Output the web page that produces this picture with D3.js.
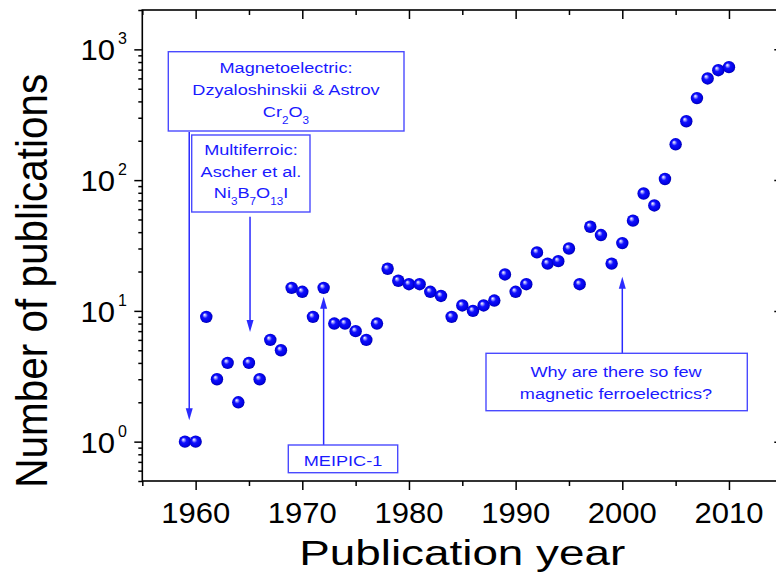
<!DOCTYPE html>
<html><head><meta charset="utf-8">
<script src="https://cdn.jsdelivr.net/npm/d3@7"></script>
<style>html,body{margin:0;padding:0;background:#fff;}svg{display:block;}</style>
</head><body>
<svg id="chart" width="776" height="577"></svg>
<script>
// ---- data ----
const years = [1959,1960,1961,1962,1963,1964,1965,1966,1967,1968,1969,1970,1971,1972,1973,1974,1975,1976,1977,1978,1979,1980,1981,1982,1983,1984,1985,1986,1987,1988,1989,1990,1991,1992,1993,1994,1995,1996,1997,1998,1999,2000,2001,2002,2003,2004,2005,2006,2007,2008,2009,2010];
const publications = [1,1,9,3,4,2,4,3,6,5,15,14,9,15,8,8,7,6,8,21,17,16,16,14,13,9,11,10,11,12,19,14,16,28,23,24,30,16,44,38,23,33,49,79,64,102,188,282,424,599,693,731];
const xMajorTicks = [1960,1970,1980,1990,2000,2010];
const xMinorTicks = [1955,1965,1975,1985,1995,2005,2015];
const yMajorTicks = [1,10,100,1000];
const yTickExponents = ["0","1","2","3"];
const xTitle = "Publication year";
const yTitle = "Number of publications";
// annotations: arrow x (year), arrow tip value
const annYears = [1959.4, 1965.1, 1972, 2000];
const annTipValues = [1.46, 6.9, 12.8, 18.2];

// ---- layout ----
const svg = d3.select("#chart");
const L = 142.3, R = 782.3, T = 10, B = 481;
const x = d3.scaleLinear().domain([1955, 2015]).range([L, R]);
const y = d3.scaleLog().domain([0.5, 2000]).range([B, T]);

const yMinor = [];
[0.1,1,10,100].forEach(d => { for (let k=2;k<=9;k++){ const v=d*k; if (v>=0.5 && v<=2000 && !yMajorTicks.includes(v)) yMinor.push(v);} });
yMinor.push(2000);

const axisCol = "#000";
function styleAxis(g){ g.select(".domain").remove(); g.selectAll("line").attr("stroke", axisCol).attr("stroke-width",1.5); g.selectAll("text").remove(); }

// bottom
svg.append("g").attr("transform",`translate(0,${B})`).call(d3.axisBottom(x).tickValues(xMajorTicks).tickSize(9)).call(styleAxis);
svg.append("g").attr("transform",`translate(0,${B})`).call(d3.axisBottom(x).tickValues(xMinorTicks).tickSize(5)).call(styleAxis);
// top (inward)
svg.append("g").attr("transform",`translate(0,${T})`).call(d3.axisBottom(x).tickValues(xMajorTicks).tickSize(9)).call(styleAxis);
svg.append("g").attr("transform",`translate(0,${T})`).call(d3.axisBottom(x).tickValues(xMinorTicks).tickSize(5)).call(styleAxis);
// left (outward)
svg.append("g").attr("transform",`translate(${L},0)`).call(d3.axisLeft(y).tickValues(yMajorTicks).tickSize(8)).call(styleAxis);
svg.append("g").attr("transform",`translate(${L},0)`).call(d3.axisLeft(y).tickValues(yMinor).tickSize(4)).call(styleAxis);
// right (inward)
svg.append("g").attr("transform",`translate(${R},0)`).call(d3.axisLeft(y).tickValues(yMajorTicks).tickSize(8)).call(styleAxis);
svg.append("g").attr("transform",`translate(${R},0)`).call(d3.axisLeft(y).tickValues(yMinor).tickSize(4)).call(styleAxis);

// frame
svg.append("rect").attr("x",L).attr("y",T).attr("width",R-L).attr("height",B-T)
  .attr("fill","none").attr("stroke",axisCol).attr("stroke-width",1.6);

const FONT = "Arial, 'Liberation Sans', Helvetica, sans-serif";
function stext(parent, px, py, sx, anchor){
  return parent.append("text").attr("transform",`translate(${px},${py}) scale(${sx},1)`)
    .attr("text-anchor",anchor).attr("font-family",FONT);
}

// x tick labels
xMajorTicks.forEach(t => {
  stext(svg, x(t), 522.7, 1.07, "middle").attr("font-size",29).attr("fill","#000").text(t);
});
// y tick labels
yMajorTicks.forEach((t,i) => {
  stext(svg, 115, y(t)+11, 1.07, "end").attr("font-size",29).attr("fill","#000").text("10");
  stext(svg, 118, y(t)-5, 1.0, "start").attr("font-size",16).attr("fill","#000").text(yTickExponents[i]);
});
// axis titles
svg.append("text").attr("transform",`translate(${(296.7+627.7)/2},565) scale(1.31,1)`)
  .attr("text-anchor","middle").attr("font-family",FONT).attr("font-size",35).attr("fill","#000").text(xTitle);
svg.append("text").attr("transform",`translate(46.7,280.7) scale(1.27,1) rotate(-90)`)
  .attr("text-anchor","middle").attr("font-family",FONT).attr("font-size",35).attr("fill","#000")
  .attr("textLength",414).attr("lengthAdjust","spacingAndGlyphs").text(yTitle);

// sphere gradient
const defs = svg.append("defs");
const grad = defs.append("radialGradient").attr("id","sphere").attr("cx","50%").attr("cy","50%").attr("r","55%").attr("fx","35%").attr("fy","32%");
grad.append("stop").attr("offset","0%").attr("stop-color","#ffffff");
grad.append("stop").attr("offset","18%").attr("stop-color","#9a9aff");
grad.append("stop").attr("offset","40%").attr("stop-color","#1010ff");
grad.append("stop").attr("offset","80%").attr("stop-color","#0000e0");
grad.append("stop").attr("offset","100%").attr("stop-color","#00008a");

svg.append("g").selectAll("circle").data(years.map((yr,i)=>({yr, v:publications[i]})))
  .join("circle").attr("cx",d=>x(d.yr)).attr("cy",d=>y(d.v)).attr("r",6.2).attr("fill","url(#sphere)");

// annotations
const annCol = "#1a1aff", boxCol = "#4a4aff", lineCol = "#2a2aff";
const ann = svg.append("g");
function box(x0,y0,x1,y1){ ann.append("rect").attr("x",x0).attr("y",y0).attr("width",x1-x0).attr("height",y1-y0).attr("fill","#fff").attr("stroke",boxCol).attr("stroke-width",1.4); }
function arrow(i, yStart){
  const ax = x(annYears[i]), tip = y(annTipValues[i]);
  const dir = tip > yStart ? 1 : -1;
  const headLen = 12, headW = 3.5;
  ann.append("line").attr("x1",ax).attr("x2",ax).attr("y1",yStart).attr("y2",tip - dir*headLen+dir*1).attr("stroke",lineCol).attr("stroke-width",1.5);
  ann.append("path").attr("d",`M${ax},${tip} L${ax-headW},${tip-dir*headLen} L${ax+headW},${tip-dir*headLen} Z`).attr("fill",lineCol);
}
function atext(px,py,sx){ return stext(ann, px, py, sx, "middle").attr("font-size",15.5).attr("fill",annCol); }
function subText(t, parts){
  parts.forEach(p => {
    if (p.sub) t.append("tspan").attr("font-size",10).attr("dy",7).text(p.s);
    else t.append("tspan").attr("dy", p.back ? -7 : 0).text(p.s);
  });
}

// box 1
arrow(0, 132);
box(168.3,51.7,404,131);
atext(286,73.3,1.17).text("Magnetoelectric:");
atext(286,95,1.17).text("Dzyaloshinskii & Astrov");
subText(atext(286,117.3,1.17), [{s:"Cr"},{s:"2",sub:true},{s:"O",back:true},{s:"3",sub:true}]);
// box 2
arrow(1, 216.7);
box(191.7,135,310,212);
atext(251,155,1.17).text("Multiferroic:");
atext(251,176.7,1.17).text("Ascher et al.");
subText(atext(251,198.3,1.17), [{s:"Ni"},{s:"3",sub:true},{s:"B",back:true},{s:"7",sub:true},{s:"O",back:true},{s:"13",sub:true},{s:"I",back:true}]);
// box 3
arrow(2, 445);
box(288.3,445,397.7,472.7);
atext(343,465.7,1.17).text("MEIPIC-1");
// box 4
arrow(3, 353.3);
box(486,353.3,747.3,410.7);
atext(616,377.3,1.17).text("Why are there so few");
atext(616,399.3,1.17).text("magnetic ferroelectrics?");
</script>
</body></html>
